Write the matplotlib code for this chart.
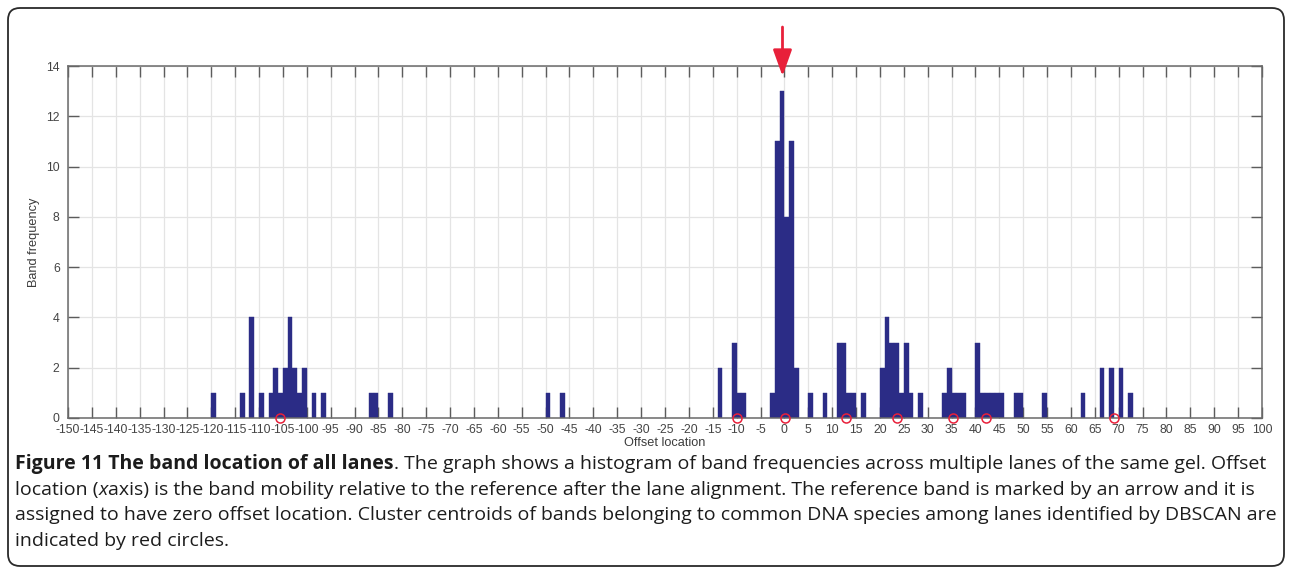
import matplotlib
matplotlib.use("Agg")
import matplotlib.pyplot as plt
from matplotlib.patches import FancyBboxPatch

# band histogram: left edge of each 1-unit offset bin and the number of bands in it
bin_left = [-120, -114, -112, -110, -108, -107, -106, -105, -104, -103, -102, -101, -99, -97,
            -87, -86, -83, -50, -47,
            -14, -11, -10, -9, -3, -2, -1, 0, 1, 2, 5, 8,
            11, 12, 13, 14, 16, 20, 21, 22, 23, 24, 25, 26, 28,
            33, 34, 35, 36, 37, 40, 41, 42, 43, 44, 45, 48, 49, 54,
            62, 66, 68, 70, 72]
band_count = [1, 1, 4, 1, 1, 2, 1, 2, 4, 2, 1, 2, 1, 1,
              1, 1, 1, 1, 1,
              2, 3, 1, 1, 1, 11, 13, 8, 11, 2, 1, 1,
              3, 3, 1, 1, 1, 2, 4, 3, 3, 1, 3, 1, 1,
              1, 2, 1, 1, 1, 3, 1, 1, 1, 1, 1, 1, 1, 1,
              1, 2, 2, 2, 1]

# DBSCAN cluster centroids, drawn on the baseline
centroids = [-105.6, -10.0, 0.2, 12.9, 23.5, 35.4, 42.3, 69.1]
ref_band = -0.4

xticks = list(range(-150, 101, 5))
yticks = list(range(0, 15, 2))

W, H = 1293, 574
bar_color = "#2b2c86"
red = "#e8203a"
axis_font = "Liberation Sans"
cap_font = "Open Sans"
cap_size = 14.0

fig = plt.figure(figsize=(W / 100, H / 100), dpi=100)

# pixel-space layer for the frame and the caption
frame = fig.add_axes([0, 0, 1, 1], zorder=0)
frame.set_xlim(0, W)
frame.set_ylim(H, 0)
frame.axis("off")
frame.add_patch(FancyBboxPatch((8, 8), W - 17, H - 16,
                               boxstyle="round,pad=0,rounding_size=12",
                               fill=False, ec="#2a2a2a", lw=1.3))

# histogram
ax = fig.add_axes([68 / W, 1 - 418 / H, 1194 / W, 352 / H], zorder=1)
ax.bar(bin_left, band_count, width=1, align="edge", color=bar_color,
       edgecolor=bar_color, linewidth=0.3, zorder=2)
ax.plot(centroids, [0] * len(centroids), "o", mfc="none", mec=red, ms=6.5,
        mew=1.1, clip_on=False, zorder=4)

ax.set_xlim(-150, 100)
ax.set_ylim(0, 14)
ax.set_xticks(xticks)
ax.set_xticklabels([str(v) for v in xticks], family=axis_font)
ax.set_yticks(yticks)
ax.set_yticklabels([str(v) for v in yticks], family=axis_font)
ax.grid(True, color="#e4e4e4", lw=0.9)
ax.set_axisbelow(True)
ax.tick_params(direction="in", length=8, width=1, color="#5c5c5c",
               top=True, right=True, labelsize=8.8, labelcolor="#444444")
ax.tick_params(axis="x", pad=4.5)
ax.tick_params(axis="y", pad=6)
for s in ax.spines.values():
    s.set_color("#6a6a6a")
    s.set_linewidth(1.1)

ax.set_xlabel("Offset location", family=axis_font, fontsize=9.2, color="#3c3c3c", labelpad=0.5)
ax.set_ylabel("Band frequency", family=axis_font, fontsize=9.2, color="#3c3c3c", labelpad=4)

# reference band marker
ax.annotate("", xy=(ref_band, 13.6), xytext=(ref_band, 15.55), annotation_clip=False,
            arrowprops=dict(arrowstyle="-|>,head_length=1.0,head_width=0.36",
                            mutation_scale=16, color=red, lw=2, shrinkA=0, shrinkB=0))

# caption, set piece by piece so the bold and italic runs sit inline
renderer = fig.canvas.get_renderer()


def caption_line(y, parts):
    x = 15
    for txt, style in parts:
        t = frame.text(x, y, txt, fontsize=cap_size, family=cap_font,
                       va="baseline", ha="left", color="#1c1c1c", **style)
        x += t.get_window_extent(renderer).width


plain = {}
caption_line(469, [("Figure 11 The band location of all lanes", {"weight": "bold"}),
                   (". The graph shows a histogram of band frequencies across multiple lanes "
                    "of the same gel. Offset", plain)])
caption_line(495, [("location (", plain), ("x", {"style": "italic"}),
                   ("axis) is the band mobility relative to the reference after the lane "
                    "alignment. The reference band is marked by an arrow and it is", plain)])
caption_line(520, [("assigned to have zero offset location. Cluster centroids of bands belonging "
                    "to common DNA species among lanes identified by DBSCAN are", plain)])
caption_line(546, [("indicated by red circles.", plain)])

fig.savefig("out.png", dpi=100)
